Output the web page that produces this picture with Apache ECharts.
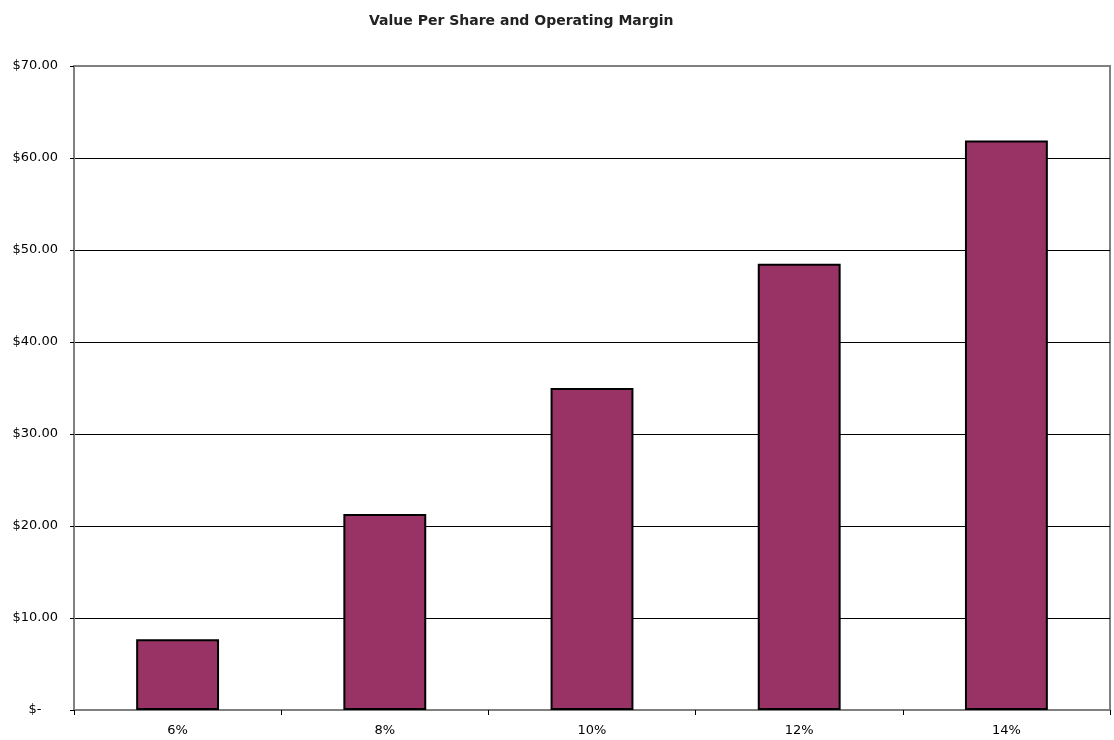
<!DOCTYPE html>
<html>
<head>
<meta charset="utf-8">
<script src="https://cdn.jsdelivr.net/npm/echarts@6/dist/echarts.min.js"></script>
<style>
  html, body { margin: 0; padding: 0; background: #fff; }
  #chart { width: 1114px; height: 740px; }
</style>
</head>
<body>
<div id="chart"></div>
<script>
// operating margin categories and value per share
const margins = ["6%", "8%", "10%", "12%", "14%"];
const valuePerShare = [7.7, 21.3, 35.0, 48.5, 61.9];
const yTicks = [0, 10, 20, 30, 40, 50, 60, 70];

const chart = echarts.init(document.getElementById("chart"));

const option = {
  animation: false,
  backgroundColor: "#fff",
  title: {
    text: "Value Per Share and Operating Margin",
    left: 364,
    top: 9,
    textStyle: {
      fontFamily: "DejaVu Sans",
      fontSize: 14,
      fontWeight: "bold",
      color: "#222",
    },
  },
  grid: {
    left: 74,
    right: 4,
    top: 66,
    bottom: 30,
    show: true,
    borderColor: "#808080",
    borderWidth: 2,
  },
  xAxis: {
    type: "category",
    data: margins,
    axisLine: { lineStyle: { color: "#808080", width: 2 } },
    axisTick: { show: true, length: 5, lineStyle: { color: "#000" } },
    axisLabel: {
      fontFamily: "DejaVu Sans",
      fontSize: 13,
      color: "#000",
      margin: 14,
    },
  },
  yAxis: {
    type: "value",
    min: yTicks[0],
    max: yTicks[yTicks.length - 1],
    interval: 10,
    axisLine: { show: true, lineStyle: { color: "#808080", width: 2 } },
    axisTick: { show: true, length: 4, lineStyle: { color: "#000" } },
    splitLine: { showMaxLine: false, showMinLine: false, lineStyle: { color: "#000", width: 1 } },
    axisLabel: {
      fontFamily: "DejaVu Sans",
      fontSize: 13,
      color: "#000",
      margin: 16,
      formatter: (v) => (v === 0 ? "$-    " : "$" + v.toFixed(2)),
    },
  },
  series: [
    {
      type: "bar",
      data: valuePerShare,
      barCategoryGap: "60%",
      itemStyle: {
        color: "#993366",
        borderColor: "#000",
        borderWidth: 2,
      },
    },
  ],
};

chart.setOption(option);
</script>
</body>
</html>
